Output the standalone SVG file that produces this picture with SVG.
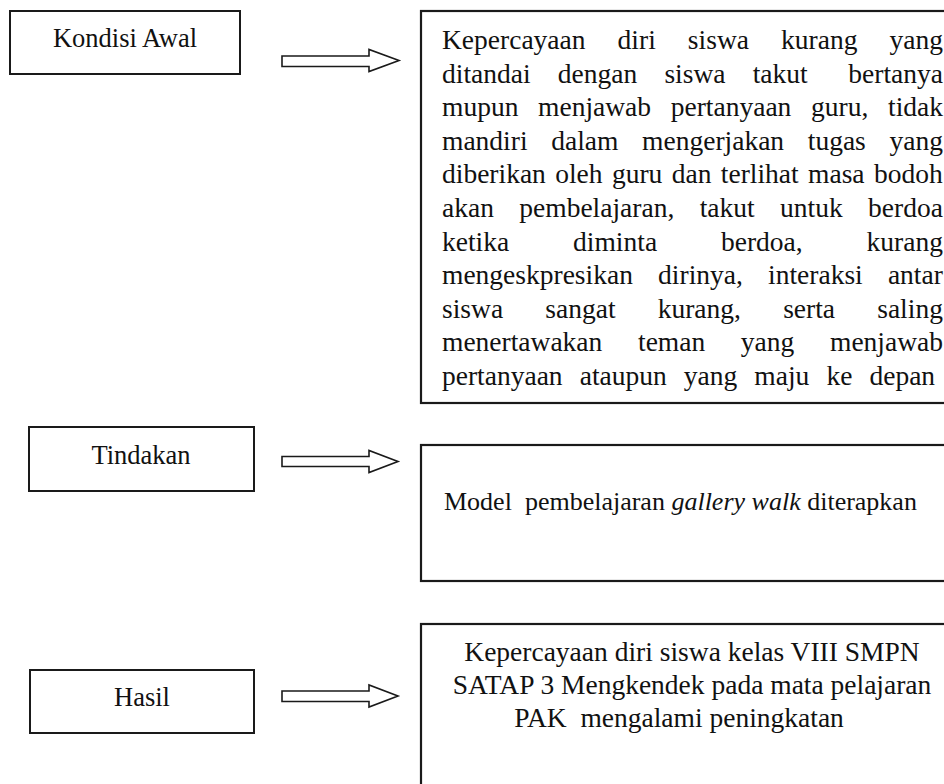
<svg xmlns="http://www.w3.org/2000/svg" width="944" height="784" viewBox="0 0 944 784">
<style>
  .box { fill: #ffffff; stroke: #1a1a1a; stroke-width: 2; }
  .big { fill: #ffffff; stroke: #1a1a1a; stroke-width: 2.2; }
  .t { font-family: "Liberation Serif", "Times New Roman", serif; font-size: 26.5px; fill: #111111; }
  .b { font-size: 27.5px; }
  .c { text-anchor: middle; }
  .arrow { fill: #ffffff; stroke: #1a1a1a; stroke-width: 1.6; stroke-linejoin: miter; }
</style>
<rect x="0" y="0" width="944" height="784" fill="#ffffff"/>

<g id="kondisi-awal">
  <rect class="box" x="10" y="11" width="230" height="63"/>
  <text class="t c" x="125" y="47">Kondisi Awal</text>
</g>

<g id="kondisi-awal-detail">
  <rect class="big" x="421" y="11" width="560" height="392"/>
  <text class="t b" x="442" y="49" word-spacing="25.2">Kepercayaan diri siswa kurang yang</text>
  <text class="t b" y="82.6"><tspan x="442">ditandai</tspan><tspan x="557.8">dengan</tspan><tspan x="664.4">siswa</tspan><tspan x="752.7">takut</tspan><tspan x="943" text-anchor="end">bertanya</tspan></text>
  <text class="t b" x="442" y="116.2" word-spacing="12.8">mupun menjawab pertanyaan guru, tidak</text>
  <text class="t b" x="442" y="149.8" word-spacing="16.8">mandiri dalam mengerjakan tugas yang</text>
  <text class="t b" x="442" y="183.4" word-spacing="2.5">diberikan oleh guru dan terlihat masa bodoh</text>
  <text class="t b" x="442" y="217" word-spacing="18.5">akan pembelajaran, takut untuk berdoa</text>
  <text class="t b" x="442" y="250.6" word-spacing="57">ketika diminta berdoa, kurang</text>
  <text class="t b" x="442" y="284.2" word-spacing="18.3">mengeskpresikan dirinya, interaksi antar</text>
  <text class="t b" x="442" y="317.8" word-spacing="35.3">siswa sangat kurang, serta saling</text>
  <text class="t b" x="442" y="351.4" word-spacing="28.8">menertawakan teman yang menjawab</text>
  <text class="t b" x="442" y="385" word-spacing="10.2">pertanyaan ataupun yang maju ke depan</text>
</g>

<g id="tindakan">
  <rect class="box" x="29" y="427" width="225" height="64"/>
  <text class="t c" x="141" y="464">Tindakan</text>
</g>

<g id="tindakan-detail">
  <rect class="big" x="421" y="445" width="560" height="136"/>
  <text class="t" x="444" y="510" xml:space="preserve" style="white-space:pre;font-size:26px">Model  pembelajaran <tspan font-style="italic">gallery walk</tspan> diterapkan</text>
</g>

<g id="hasil">
  <rect class="box" x="30" y="670" width="224" height="63"/>
  <text class="t c" x="142" y="706">Hasil</text>
</g>

<g id="hasil-detail">
  <rect class="big" x="421" y="624" width="560" height="200"/>
  <text class="t b c" x="692" y="661">Kepercayaan diri siswa kelas VIII SMPN</text>
  <text class="t b c" x="692" y="694">SATAP 3 Mengkendek pada mata pelajaran</text>
  <text class="t b c" x="679" y="727" style="white-space:pre" xml:space="preserve">PAK  mengalami peningkatan</text>
</g>

<g id="connectors">
  <polygon class="arrow" points="282,56 369,56 369,49.5 399,60.5 369,71.5 369,66.5 282,66.5"/>
  <polygon class="arrow" points="282,456.5 369,456.5 369,450.5 398,461.5 369,472.5 369,466.5 282,466.5"/>
  <polygon class="arrow" points="282,691 369,691 369,685 398,696 369,707 369,701.5 282,701.5"/>
</g>
</svg>
